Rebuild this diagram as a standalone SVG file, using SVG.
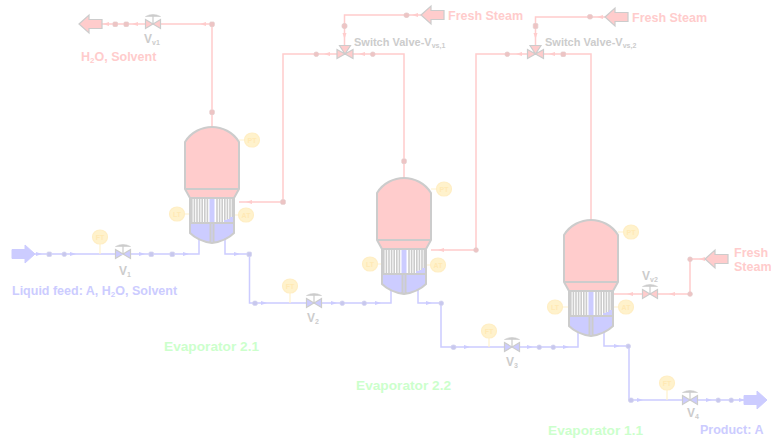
<svg xmlns="http://www.w3.org/2000/svg" width="771" height="441" viewBox="0 0 771 441">
<style>
text{font-family:"Liberation Sans",Arial,sans-serif;font-weight:bold}
.p{fill:none;stroke:#ffcccc;stroke-width:1.5}
.b{fill:none;stroke:#ccccff;stroke-width:1.5}
.i{fill:none;stroke:#fff2cc;stroke-width:1.2}
.np{fill:#eec4c4;stroke:#e4cccc;stroke-width:.8}
.nb{fill:#c8c8ee;stroke:#d4d4f0;stroke-width:.8}
.ap{fill:#ffcccc}
.ab{fill:#ccccff}
.bigp{fill:#ffcccc;stroke:#cccccc;stroke-width:1.2}
.bigb{fill:#ccccff;stroke:#ccccff;stroke-width:1}
.vp{fill:#ffcccc;stroke:#cccccc;stroke-width:1.2}
.vb{fill:#ccccff;stroke:#cccccc;stroke-width:1.2}
.g{stroke:#cccccc;fill:none}
.inst{fill:#fff2cc;stroke:#ffeec4;stroke-width:1.2}
.it{fill:#ffe9b4;font-size:7px;text-anchor:middle}
.lg{fill:#cccccc}
.lp{fill:#ffcccc;font-size:12.500px}
.lb{fill:#ccccff;font-size:12.500px}
.lgr{fill:#ccffcc;font-size:13.700px}
</style>
<defs>
<path id="ar" d="M-3,-2 L3,0 L-3,2 Z"/>
<g id="act"><path d="M0,0 V-9" class="g" stroke-width="1.200"/><path d="M-7.500,-7.500 Q0,-11.500 7.500,-7.500 Z" fill="#cccccc" stroke="#cccccc" stroke-width=".6"/></g>
<path id="bow" d="M-7.500,-4.500 L7.500,4.500 V-4.500 L-7.500,4.500 Z"/>
<path id="tee" d="M-8,-4.500 L8,4.500 V-4.500 L-8,4.500 Z M-5.500,-8.500 H5.500 L0,0 Z"/>
<path id="bl" d="M0,0 L10,-9 V-4.500 H23 V4.500 H10 V9 Z"/>
<path id="br" d="M0,0 L-10,-9 V-4.500 H-23 V4.500 H-10 V9 Z"/>
<g id="vessel">
<path d="M-27,15 C-21,5 -10,0 0,0 C10,0 21,5 27,15 V62 L22,71 H-22 L-27,62 Z" fill="#ffcccc"/>
<rect x="-22" y="71" width="44" height="25" fill="#ffffff"/>
<path d="M-20.200,71V96M-17.600,71V96M-15,71V96M-12.400,71V96M-9.800,71V96M-7.200,71V96M-4.600,71V96M5,71V96M7.600,71V96M10.200,71V96M12.800,71V96M15.400,71V96M18,71V96M20.400,71V96" stroke="#cccccc" stroke-width="1.600" fill="none"/>
<rect x="-2.500" y="71" width="5" height="25" fill="#ccccff"/>
<path d="M12,96 V93 H15 V92 H18 V90 H22 V96 Z" fill="#ccccff"/>
<path d="M-22,96 H22 V106 Q14,114 0,116 Q-14,114 -22,106 Z" fill="#ccccff"/>
<path d="M-27,15 C-21,5 -10,0 0,0 C10,0 21,5 27,15 V62 L22,71 V106 Q14,114 0,116 Q-14,114 -22,106 V71 L-27,62 Z M-27,62 H27 M-22,71 H22 M-22,96 H22 M-1.500,96 V116 M1.500,96 V116" fill="none" stroke="#cccccc" stroke-width="2"/>
</g>
</defs>

<g id="connectors">
<path class="p" d="M212,127 V24 H102"/>
<path class="p" d="M421,15 H344.500 V46"/>
<path class="p" d="M337,54 H283 V202 H239"/>
<path class="p" d="M353,54 H404 V178"/>
<path class="p" d="M605,17 H535.500 V46"/>
<path class="p" d="M527,54 H476 V250 H431"/>
<path class="p" d="M544,54 H591 V220"/>
<path class="p" d="M705,259 H690 V294 H613"/>
<path class="b" d="M35,254 H199 V238"/>
<path class="b" d="M225,238 V254 H249.500 V303 H391 V290"/>
<path class="b" d="M418,290 V303 H441 V347 H578 V333"/>
<path class="b" d="M604,333 V346 H629 V400 H745"/>
<path class="i" d="M100,244 V254 M290,293 V303 M489,338 V347 M667,390 V400"/>
<path class="i" d="M239,140 H245 M184,214 H190 M234,215 H239 M431,189 H437 M376,264 H382 M426,265 H431 M618,232 H624 M562,307 H569 M613,307 H619"/>
<g class="np">
<rect x="113" y="22" width="4.500" height="4.500" rx="1"/><rect x="124" y="22" width="4.500" height="4.500" rx="1"/><rect x="209.800" y="22" width="4.500" height="4.500" rx="1"/><rect x="209.800" y="110" width="4.500" height="4.500" rx="1"/>
<rect x="404" y="13" width="5" height="4.500" rx="2"/><rect x="342" y="23.500" width="5" height="5" rx="2"/><rect x="314" y="52" width="4.500" height="4.500" rx="2"/><rect x="370.500" y="52" width="4.500" height="4.500" rx="2"/><rect x="280.800" y="199.800" width="4.500" height="4.500" rx="1"/><rect x="401.800" y="159" width="4.500" height="4.500" rx="1"/>
<rect x="587.500" y="14.500" width="5" height="4.500" rx="2"/><rect x="533.300" y="23.500" width="4.500" height="5" rx="1"/><rect x="505" y="52" width="4.500" height="4.500" rx="2"/><rect x="561" y="52" width="4.500" height="4.500" rx="1"/><rect x="473.800" y="247.800" width="4.500" height="4.500" rx="2"/>
<rect x="687.800" y="257" width="4.500" height="4.500" rx="2"/><rect x="687.800" y="291.800" width="4.500" height="4.500" rx="2"/>
</g>
<g class="nb">
<rect x="47" y="252" width="4.500" height="4.500" rx="1"/><rect x="62" y="252" width="4.500" height="4.500" rx="2"/><rect x="149" y="252" width="4.500" height="4.500" rx="1"/><rect x="170" y="252" width="4.500" height="4.500" rx="1"/><rect x="247" y="252" width="4.500" height="4.500" rx="1"/>
<rect x="252.500" y="301" width="5" height="4.500" rx="2"/><rect x="340" y="301" width="4.500" height="4.500" rx="2"/><rect x="362" y="301" width="4.500" height="4.500" rx="2"/><rect x="439" y="301" width="4.500" height="4.500" rx="2"/>
<rect x="451" y="345" width="5" height="4.500" rx="2"/><rect x="537" y="345" width="4.500" height="4.500" rx="2"/><rect x="551" y="345" width="4.500" height="4.500" rx="2"/><rect x="626" y="344" width="4.500" height="4.500" rx="2"/>
<rect x="628.500" y="398" width="5" height="4.500" rx="2"/><rect x="716" y="398" width="4.500" height="4.500" rx="2"/><rect x="729" y="398" width="4.500" height="4.500" rx="2"/>
</g>
<g class="ap">
<use href="#ar" transform="translate(106,24) rotate(180)"/><use href="#ar" transform="translate(135,24) rotate(180)"/><use href="#ar" transform="translate(203,24) rotate(180)"/>
<use href="#ar" transform="translate(415,15) rotate(180)"/><use href="#ar" transform="translate(344.500,36) rotate(90)"/><use href="#ar" transform="translate(327,54) rotate(180)"/><use href="#ar" transform="translate(362,54) rotate(180)"/><use href="#ar" transform="translate(249,202) rotate(180)"/>
<use href="#ar" transform="translate(600,17) rotate(180)"/><use href="#ar" transform="translate(535.500,36) rotate(90)"/><use href="#ar" transform="translate(519,54) rotate(180)"/><use href="#ar" transform="translate(552,54) rotate(180)"/><use href="#ar" transform="translate(441,250) rotate(180)"/>
<use href="#ar" transform="translate(702,259) rotate(180)"/><use href="#ar" transform="translate(672,294) rotate(180)"/><use href="#ar" transform="translate(630,294) rotate(180)"/>
</g>
<g class="ab">
<use href="#ar" transform="translate(39,254)"/><use href="#ar" transform="translate(73,254)"/><use href="#ar" transform="translate(142,254)"/><use href="#ar" transform="translate(186,254)"/><use href="#ar" transform="translate(237,254)"/>
<use href="#ar" transform="translate(264,303)"/><use href="#ar" transform="translate(334,303)"/><use href="#ar" transform="translate(378,303)"/><use href="#ar" transform="translate(429,303)"/>
<use href="#ar" transform="translate(467,347)"/><use href="#ar" transform="translate(530,347)"/><use href="#ar" transform="translate(566,347)"/><use href="#ar" transform="translate(617,346)"/>
<use href="#ar" transform="translate(640,400)"/><use href="#ar" transform="translate(709,400)"/><use href="#ar" transform="translate(742,400)"/>
</g>
</g>

<g id="evaporator-2-1"><use href="#vessel" x="212" y="127"/><text class="lgr" x="164" y="351">Evaporator 2.1</text></g>
<g id="evaporator-2-2"><use href="#vessel" x="404" y="178"/><text class="lgr" x="356" y="390">Evaporator 2.2</text></g>
<g id="evaporator-1-1"><use href="#vessel" x="591" y="220"/><text class="lgr" x="548" y="435">Evaporator 1.1</text></g>

<g id="instruments">
<g><ellipse class="inst" cx="252" cy="140" rx="7.500" ry="7"/><text class="it" x="252" y="142.500">PT</text></g>
<g><ellipse class="inst" cx="177" cy="214" rx="7.500" ry="7"/><text class="it" x="177" y="216.500">LT</text></g>
<g><ellipse class="inst" cx="246" cy="215" rx="7.500" ry="7"/><text class="it" x="246" y="217.500">AT</text></g>
<g><ellipse class="inst" cx="444" cy="189" rx="7.500" ry="7"/><text class="it" x="444" y="191.500">PT</text></g>
<g><ellipse class="inst" cx="370" cy="264" rx="7.500" ry="7"/><text class="it" x="370" y="266.500">LT</text></g>
<g><ellipse class="inst" cx="438" cy="265" rx="7.500" ry="7"/><text class="it" x="438" y="267.500">AT</text></g>
<g><ellipse class="inst" cx="631" cy="232" rx="7.500" ry="7"/><text class="it" x="631" y="234.500">PT</text></g>
<g><ellipse class="inst" cx="555" cy="307" rx="7.500" ry="7"/><text class="it" x="555" y="309.500">LT</text></g>
<g><ellipse class="inst" cx="626" cy="307" rx="7.500" ry="7"/><text class="it" x="626" y="309.500">AT</text></g>
<g><ellipse class="inst" cx="100" cy="237" rx="7.500" ry="7"/><text class="it" x="100" y="239.500">FT</text></g>
<g><ellipse class="inst" cx="290" cy="286" rx="7.500" ry="7"/><text class="it" x="290" y="288.500">FT</text></g>
<g><ellipse class="inst" cx="489" cy="331" rx="7.500" ry="7"/><text class="it" x="489" y="333.500">FT</text></g>
<g><ellipse class="inst" cx="667" cy="383" rx="7.500" ry="7"/><text class="it" x="667" y="385.500">FT</text></g>
</g>

<g id="valve-v1" class="vb"><use href="#bow" x="123" y="254"/><use href="#act" x="123" y="254"/><text class="lg" x="119" y="275" font-size="12" stroke="none">V<tspan font-size="7" dy="2">1</tspan></text></g>
<g id="valve-v2" class="vb"><use href="#bow" x="314" y="303"/><use href="#act" x="314" y="303"/><text class="lg" x="307" y="322" font-size="12" stroke="none">V<tspan font-size="7" dy="2">2</tspan></text></g>
<g id="valve-v3" class="vb"><use href="#bow" x="512" y="347"/><use href="#act" x="512" y="347"/><text class="lg" x="506" y="366" font-size="12" stroke="none">V<tspan font-size="7" dy="2">3</tspan></text></g>
<g id="valve-v4" class="vb"><use href="#bow" x="690" y="400"/><use href="#act" x="690" y="400"/><text class="lg" x="687" y="417" font-size="12" stroke="none">V<tspan font-size="7" dy="2">4</tspan></text></g>
<g id="valve-vv1" class="vp"><use href="#bow" x="153" y="24"/><use href="#act" x="153" y="24"/><text class="lg" x="144" y="43" font-size="12" stroke="none">V<tspan font-size="7" dy="2">v1</tspan></text></g>
<g id="valve-vv2" class="vp"><use href="#bow" x="650" y="294"/><use href="#act" x="650" y="294"/><text class="lg" x="642" y="280" font-size="12" stroke="none">V<tspan font-size="7" dy="2">v2</tspan></text></g>
<g id="switch-valve-1" class="vp"><use href="#tee" x="345" y="54"/><text class="lg" x="354" y="46" font-size="11" stroke="none">Switch Valve-V<tspan font-size="7" dy="2">vs,1</tspan></text></g>
<g id="switch-valve-2" class="vp"><use href="#tee" x="535.500" y="54"/><text class="lg" x="545" y="46" font-size="11" stroke="none">Switch Valve-V<tspan font-size="7" dy="2">vs,2</tspan></text></g>

<g id="stream-h2o"><use href="#bl" x="79" y="24" class="bigp"/><text class="lp" x="81" y="61">H<tspan font-size="8" dy="2">2</tspan><tspan dy="-2">O, Solvent</tspan></text></g>
<g id="stream-steam-1"><use href="#bl" x="421" y="15" class="bigp"/><text class="lp" x="448" y="20">Fresh Steam</text></g>
<g id="stream-steam-2"><use href="#bl" x="605" y="17" class="bigp"/><text class="lp" x="632" y="22">Fresh Steam</text></g>
<g id="stream-steam-3"><use href="#bl" x="705" y="259" class="bigp"/><text class="lp" x="734" y="257">Fresh</text><text class="lp" x="734" y="271">Steam</text></g>
<g id="stream-feed"><use href="#br" x="35" y="254" class="bigb"/><text class="lb" x="12" y="295">Liquid feed: A, H<tspan font-size="8" dy="2">2</tspan><tspan dy="-2">O, Solvent</tspan></text></g>
<g id="stream-product"><use href="#br" x="767" y="400" class="bigb"/><text class="lb" x="700" y="434">Product: A</text></g>
</svg>
